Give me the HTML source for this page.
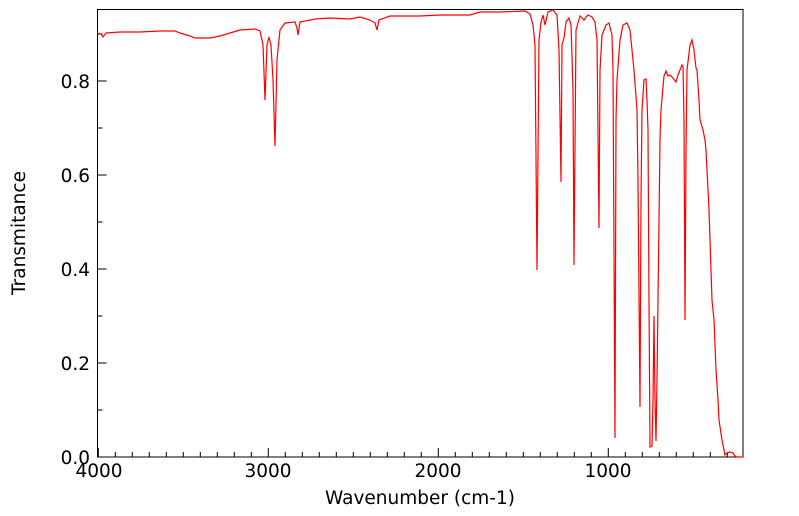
<!DOCTYPE html>
<html><head><style>body{margin:0;background:#fff}svg{display:block}</style></head><body>
<svg width="799" height="516" xmlns="http://www.w3.org/2000/svg" font-family="DejaVu Sans, Liberation Sans, sans-serif" font-size="18.5">
<rect x="97.5" y="9.5" width="645.5" height="447.5" fill="none" stroke="#000" stroke-width="1"/>
<g stroke="#000" stroke-width="1">
<path d="M98.3 457v-9M268.3 457v-9M438.3 457v-9M608.3 457v-9M115.3 457v-5M132.3 457v-5M149.3 457v-5M166.3 457v-5M183.3 457v-5M200.3 457v-5M217.3 457v-5M234.3 457v-5M251.3 457v-5M285.3 457v-5M302.3 457v-5M319.3 457v-5M336.3 457v-5M353.3 457v-5M370.3 457v-5M387.3 457v-5M404.3 457v-5M421.3 457v-5M455.3 457v-5M472.3 457v-5M489.3 457v-5M506.3 457v-5M523.3 457v-5M540.3 457v-5M557.3 457v-5M574.3 457v-5M591.3 457v-5M625.3 457v-5M642.3 457v-5M659.3 457v-5M676.3 457v-5M693.3 457v-5M710.3 457v-5M727.3 457v-5"/>
<path d="M97.5 363h9M97.5 269h9M97.5 175h9M97.5 81h9M97.5 410h5M97.5 316h5M97.5 222h5M97.5 128h5M97.5 34h5"/>
</g>
<g text-anchor="end">
<text x="90" y="464">0.0</text><text x="90" y="370">0.2</text><text x="90" y="276">0.4</text><text x="90" y="182">0.6</text><text x="90" y="88">0.8</text>
</g>
<g text-anchor="middle">
<text x="99" y="477">4000</text><text x="268" y="477">3000</text><text x="438" y="477">2000</text><text x="608" y="477">1000</text>
<text x="420" y="504">Wavenumber (cm-1)</text>
<text transform="translate(25 233) rotate(-90)">Transmitance</text>
</g>
<polyline fill="none" stroke="#f00" stroke-width="1.2" points="97,33 101,34 103,37 106,33 120,32 140,32 160,31 175,31 180,33 190,36 195,38 210,38 220,36 240,30 255,29 260,31 263,45 265,100 267,45 269,37 271,45 273,80 275,146 277,60 280,30 285,23 295,22 297,28 298,35 300,22 315,19 330,18 350,19 360,17 370,20 375,23 377,30 379,20 390,16 420,16 440,15 470,15 480,12 500,12 525,11 530,14 533,25 535,45 537,270 539,40 541,22 543,15 545,25 548,12 553,10 557,15 559,50 561,182 562,45 564,38 566,22 569,18 571,25 573,90 574,265 576,30 580,16 584,20 586,17 588,15 592,17 595,22 597,40 599,228 600,70 602,35 606,25 609,23 612,35 613,70 615,438 616,120 617,80 620,40 623,25 627,23 630,30 633,60 634,70 637,110 638,180 640,407 641,200 642,110 644,80 646,79 647,100 648,130 649,300 650,447 652,446 653,400 654,316 655,400 656,441 657,380 658,300 660,140 661,110 664,76 666,71 668,76 670,75 672,77 676,82 678,75 680,70 682,65 683,66 684,120 685,320 686,150 687,70 690,45 692,40 694,50 696,68 697,70 699,100 700,120 703,130 705,140 706,150 709,210 711,270 712,300 714,320 716,370 718,400 719,420 722,440 725,455 727,453 730,452 733,453 735,456 737,457 743,457"/>
</svg>
</body></html>
